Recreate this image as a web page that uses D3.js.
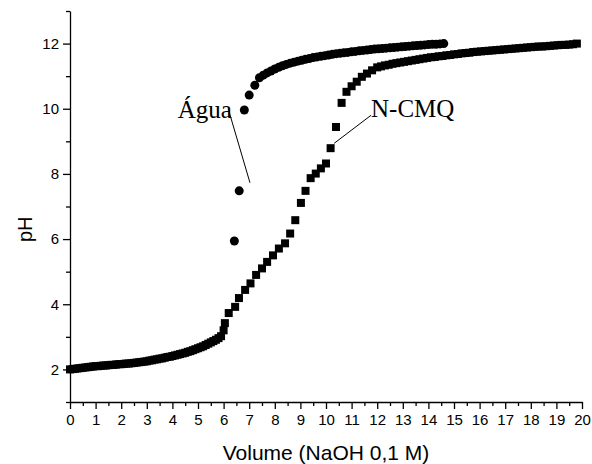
<!DOCTYPE html>
<html>
<head>
<meta charset="utf-8">
<script src="https://cdn.jsdelivr.net/npm/d3@7"></script>
<style>
  html, body { margin: 0; padding: 0; background: #fff; }
  svg { display: block; }
  .axis path, .axis line { stroke: #000; stroke-width: 1.3; }
  .axis text { font-family: "Liberation Sans", Arial, sans-serif; font-size: 15px; fill: #000; }
</style>
</head>
<body>
<svg id="chart" width="592" height="464"></svg>
<script>
// Titration of N-CMQ: volume of NaOH added (mL) and measured pH
const cmqVolume = [
  0.0, 0.1, 0.2, 0.3, 0.4, 0.5, 0.6, 0.7, 0.8, 0.9,
  1.0, 1.1, 1.2, 1.3, 1.4, 1.5, 1.6, 1.7, 1.8, 1.9,
  2.0, 2.1, 2.2, 2.3, 2.4, 2.5, 2.6, 2.7, 2.8, 2.9,
  3.0, 3.1, 3.2, 3.3, 3.4, 3.5, 3.6, 3.7, 3.8, 3.9,
  4.0, 4.1, 4.2, 4.3, 4.4, 4.5, 4.6, 4.7, 4.8, 4.9,
  5.0, 5.1, 5.2, 5.3, 5.4, 5.5, 5.6, 5.7, 5.8, 5.9,
  6.0, 6.05, 6.2, 6.45, 6.6, 6.84, 7.05, 7.27, 7.5, 7.7,
  7.93, 8.16, 8.4, 8.6, 8.8, 9.02, 9.2, 9.4, 9.6, 9.8,
  10.0, 10.18, 10.39, 10.61, 10.8, 11.0, 11.2, 11.4, 11.6, 11.8,
  12.0, 12.15, 12.3, 12.45, 12.6, 12.75, 12.9, 13.05, 13.2, 13.35,
  13.5, 13.65, 13.8, 13.95, 14.1, 14.25, 14.4, 14.55, 14.7, 14.85,
  15.0, 15.15, 15.3, 15.45, 15.6, 15.75, 15.9, 16.05, 16.2, 16.35,
  16.5, 16.65, 16.8, 16.95, 17.1, 17.25, 17.4, 17.55, 17.7, 17.85,
  18.0, 18.15, 18.3, 18.45, 18.6, 18.75, 18.9, 19.05, 19.2, 19.35,
  19.5, 19.65, 19.8
];
const cmqPH = [
  2.00, 2.01, 2.02, 2.03, 2.04, 2.05, 2.06, 2.07, 2.08, 2.09,
  2.10, 2.10, 2.11, 2.12, 2.12, 2.13, 2.14, 2.14, 2.15, 2.16,
  2.16, 2.17, 2.18, 2.18, 2.19, 2.20, 2.21, 2.22, 2.23, 2.24,
  2.25, 2.27, 2.28, 2.30, 2.31, 2.33, 2.34, 2.36, 2.38, 2.39,
  2.41, 2.43, 2.45, 2.47, 2.49, 2.51, 2.54, 2.56, 2.59, 2.62,
  2.65, 2.68, 2.71, 2.75, 2.79, 2.83, 2.87, 2.91, 2.96, 3.02,
  3.20, 3.42, 3.73, 3.92, 4.19, 4.44, 4.64, 4.90, 5.10, 5.30,
  5.50, 5.71, 5.87, 6.17, 6.58, 7.11, 7.48, 7.87, 8.01, 8.17,
  8.32, 8.79, 9.44, 10.18, 10.52, 10.69, 10.83, 10.98, 11.08, 11.18,
  11.27, 11.30, 11.33, 11.35, 11.38, 11.40, 11.42, 11.44, 11.46, 11.48,
  11.50, 11.52, 11.54, 11.56, 11.58, 11.59, 11.61, 11.62, 11.64, 11.65,
  11.67, 11.68, 11.70, 11.71, 11.72, 11.74, 11.75, 11.76, 11.77, 11.78,
  11.79, 11.80, 11.81, 11.82, 11.83, 11.84, 11.85, 11.86, 11.87, 11.88,
  11.89, 11.90, 11.91, 11.91, 11.92, 11.93, 11.94, 11.95, 11.96, 11.96,
  11.97, 11.98, 12.00
];

// Titration of water (blank)
const aguaVolume = [
  6.42, 6.61, 6.81, 7.0, 7.22, 7.4, 7.55, 7.7, 7.85, 8.0,
  8.15, 8.3, 8.45, 8.6, 8.75, 8.9, 9.05, 9.2, 9.35, 9.5,
  9.65, 9.8, 9.95, 10.1, 10.25, 10.4, 10.55, 10.7, 10.85, 11.0,
  11.15, 11.3, 11.45, 11.6, 11.75, 11.9, 12.05, 12.2, 12.35, 12.5,
  12.65, 12.8, 12.95, 13.1, 13.25, 13.4, 13.55, 13.7, 13.85, 14.0,
  14.15, 14.3, 14.45, 14.6
];
const aguaPH = [
  5.94, 7.48, 9.96, 10.42, 10.72, 10.95, 11.03, 11.10, 11.16, 11.22,
  11.27, 11.32, 11.36, 11.40, 11.43, 11.46, 11.49, 11.52, 11.54, 11.57,
  11.59, 11.61, 11.63, 11.65, 11.67, 11.69, 11.70, 11.72, 11.73, 11.75,
  11.76, 11.78, 11.79, 11.80, 11.82, 11.83, 11.84, 11.85, 11.86, 11.87,
  11.88, 11.89, 11.90, 11.91, 11.92, 11.93, 11.94, 11.95, 11.96, 11.97,
  11.98, 11.98, 11.99, 12.00
];

// Axis ticks
const xMajorTicks = d3.range(0, 21, 1);
const xMinorTicks = d3.range(0.5, 20, 1);
const yMajorTicks = [2, 4, 6, 8, 10, 12];
const yMinorTicks = [1, 3, 5, 7, 9, 11, 13];

// Annotation callouts: label, text anchor point, leader line from/to (data units)
const callouts = [
  { label: "Água", anchor: "end",   at: [6.32, 9.72], from: [6.18, 10.0], to: [7.03, 7.73] },
  { label: "N-CMQ", anchor: "start", at: [11.76, 9.75], from: [11.76, 9.80], to: [10.32, 8.94] }
];

const svg = d3.select("#chart");
const margin = { left: 70, right: 10, top: 11, bottom: 62 };
const W = 592, H = 464;

const x = d3.scaleLinear().domain([0, 20]).range([margin.left, W - margin.right]);
const y = d3.scaleLinear().domain([1, 13]).range([H - margin.bottom, margin.top]);

// x axis: major ticks with labels, minor ticks without
svg.append("g").attr("class", "axis")
  .attr("transform", `translate(0,${y(1)})`)
  .call(d3.axisBottom(x).tickValues(xMinorTicks).tickSize(4).tickFormat(""))
  .call(g => g.select(".domain").remove());
svg.append("g").attr("class", "axis")
  .attr("transform", `translate(0,${y(1)})`)
  .call(d3.axisBottom(x).tickValues(xMajorTicks).tickSizeInner(7).tickSizeOuter(0).tickPadding(5).tickFormat(d3.format("d")));

// y axis
svg.append("g").attr("class", "axis")
  .attr("transform", `translate(${x(0)},0)`)
  .call(d3.axisLeft(y).tickValues(yMinorTicks).tickSize(4).tickFormat(""))
  .call(g => g.select(".domain").remove());
svg.append("g").attr("class", "axis")
  .attr("transform", `translate(${x(0)},0)`)
  .call(d3.axisLeft(y).tickValues(yMajorTicks).tickSizeInner(7).tickSizeOuter(0).tickPadding(4).tickFormat(d3.format("d")));

// Axis titles
svg.append("text")
  .attr("x", (x(0) + x(20)) / 2)
  .attr("y", 460)
  .attr("text-anchor", "middle")
  .style("font-family", "Liberation Sans, Arial, sans-serif")
  .style("font-size", "21px")
  .text("Volume (NaOH 0,1 M)");

svg.append("text")
  .attr("transform", `translate(32,${y(6.3)}) rotate(-90)`)
  .attr("text-anchor", "middle")
  .style("font-family", "Liberation Sans, Arial, sans-serif")
  .style("font-size", "20px")
  .text("pH");

// N-CMQ: square markers
const sq = 8;
svg.append("g").selectAll("rect")
  .data(d3.zip(cmqVolume, cmqPH))
  .join("rect")
  .attr("x", d => x(d[0]) - sq / 2)
  .attr("y", d => y(d[1]) - sq / 2)
  .attr("width", sq).attr("height", sq)
  .attr("fill", "#000");

// Water: circle markers
svg.append("g").selectAll("circle")
  .data(d3.zip(aguaVolume, aguaPH))
  .join("circle")
  .attr("cx", d => x(d[0]))
  .attr("cy", d => y(d[1]))
  .attr("r", 4.5)
  .attr("fill", "#000");

// Callout labels with leader lines
const cg = svg.append("g");
callouts.forEach(c => {
  cg.append("line")
    .attr("x1", x(c.from[0])).attr("y1", y(c.from[1]))
    .attr("x2", x(c.to[0])).attr("y2", y(c.to[1]))
    .attr("stroke", "#000").attr("stroke-width", 1);
  cg.append("text")
    .attr("x", x(c.at[0])).attr("y", y(c.at[1]))
    .attr("text-anchor", c.anchor)
    .style("font-family", "Liberation Serif, 'Times New Roman', serif")
    .style("font-size", "25px")
    .text(c.label);
});
</script>
</body>
</html>
